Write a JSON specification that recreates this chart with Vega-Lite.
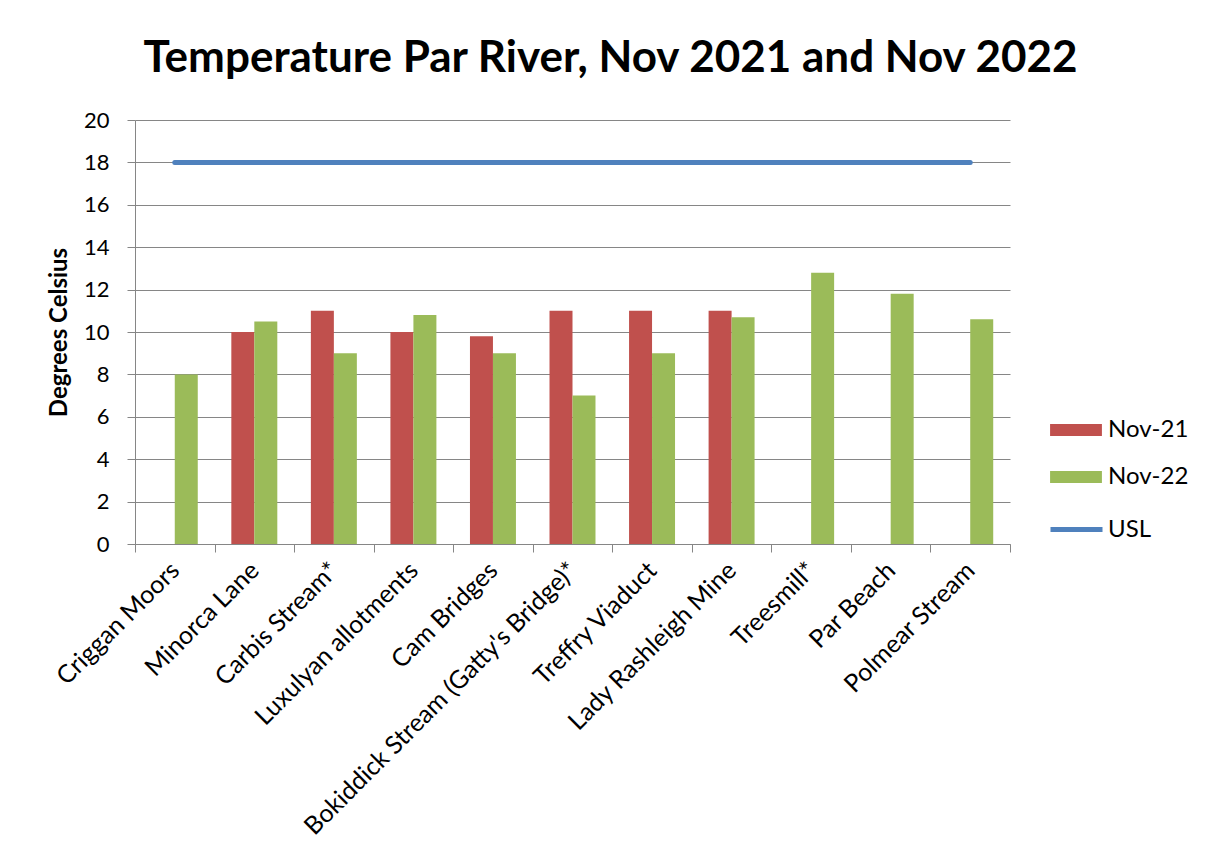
{
  "$schema": "https://vega.github.io/schema/vega-lite/v6.json",
  "autosize": {"type": "none"},
  "width": 875,
  "height": 424,
  "padding": {"left": 135, "top": 120, "right": 202, "bottom": 315},
  "background": "white",
  "title": {
    "text": "Temperature Par River, Nov 2021 and Nov 2022",
    "font": "Lato",
    "fontSize": 44,
    "fontWeight": "bold",
    "color": "black",
    "anchor": "middle",
    "frame": "group",
    "baseline": "alphabetic",
    "offset": 47,
    "dx": 38,
    "dy": 54
  },
  "datasets": {
    "temps": [
      {"site": "Criggan Moors", "series": "Nov-22", "value": 8},
      {"site": "Minorca Lane", "series": "Nov-21", "value": 10},
      {"site": "Minorca Lane", "series": "Nov-22", "value": 10.5},
      {"site": "Carbis Stream*", "series": "Nov-21", "value": 11},
      {"site": "Carbis Stream*", "series": "Nov-22", "value": 9},
      {"site": "Luxulyan allotments", "series": "Nov-21", "value": 10},
      {"site": "Luxulyan allotments", "series": "Nov-22", "value": 10.8},
      {"site": "Cam Bridges", "series": "Nov-21", "value": 9.8},
      {"site": "Cam Bridges", "series": "Nov-22", "value": 9},
      {"site": "Bokiddick Stream (Gatty's Bridge)*", "series": "Nov-21", "value": 11},
      {"site": "Bokiddick Stream (Gatty's Bridge)*", "series": "Nov-22", "value": 7},
      {"site": "Treffry Viaduct", "series": "Nov-21", "value": 11},
      {"site": "Treffry Viaduct", "series": "Nov-22", "value": 9},
      {"site": "Lady Rashleigh Mine", "series": "Nov-21", "value": 11},
      {"site": "Lady Rashleigh Mine", "series": "Nov-22", "value": 10.7},
      {"site": "Treesmill*", "series": "Nov-22", "value": 12.8},
      {"site": "Par Beach", "series": "Nov-22", "value": 11.8},
      {"site": "Polmear Stream", "series": "Nov-22", "value": 10.6}
    ],
    "usl": [
      {"site": "Criggan Moors", "series": "USL", "value": 18},
      {"site": "Minorca Lane", "series": "USL", "value": 18},
      {"site": "Carbis Stream*", "series": "USL", "value": 18},
      {"site": "Luxulyan allotments", "series": "USL", "value": 18},
      {"site": "Cam Bridges", "series": "USL", "value": 18},
      {"site": "Bokiddick Stream (Gatty's Bridge)*", "series": "USL", "value": 18},
      {"site": "Treffry Viaduct", "series": "USL", "value": 18},
      {"site": "Lady Rashleigh Mine", "series": "USL", "value": 18},
      {"site": "Treesmill*", "series": "USL", "value": 18},
      {"site": "Par Beach", "series": "USL", "value": 18},
      {"site": "Polmear Stream", "series": "USL", "value": 18}
    ]
  },
  "encoding": {
    "x": {
      "field": "site",
      "type": "nominal",
      "sort": null,
      "scale": {
        "domain": ["Criggan Moors", "Minorca Lane", "Carbis Stream*", "Luxulyan allotments", "Cam Bridges", "Bokiddick Stream (Gatty's Bridge)*", "Treffry Viaduct", "Lady Rashleigh Mine", "Treesmill*", "Par Beach", "Polmear Stream"],
        "paddingInner": 0,
        "paddingOuter": 0
      },
      "axis": {
        "title": null,
        "labelAngle": -45,
        "labelAlign": "right",
        "labelBaseline": "middle",
        "labelPadding": 14,
        "labelFont": "Lato",
        "labelFontSize": 25,
        "labelColor": "black",
        "labelLimit": 0,
        "tickBand": "extent",
        "tickSize": 8,
        "tickColor": "#868686",
        "domainColor": "#868686",
        "grid": false
      }
    },
    "y": {
      "field": "value",
      "type": "quantitative",
      "scale": {"domain": [0, 20], "nice": false},
      "axis": {
        "title": "Degrees Celsius",
        "titleFont": "Lato",
        "titleFontSize": 24,
        "titleFontWeight": "bold",
        "titleColor": "black",
        "titlePadding": 12,
        "values": [0, 2, 4, 6, 8, 10, 12, 14, 16, 18, 20],
        "labelFont": "Lato",
        "labelFontSize": 22,
        "labelColor": "black",
        "labelPadding": 18,
        "tickSize": 8,
        "tickColor": "#868686",
        "domainColor": "#868686",
        "grid": true,
        "gridColor": "#868686",
        "gridWidth": 1
      }
    }
  },
  "layer": [
    {
      "data": {"name": "temps"},
      "mark": {"type": "bar"},
      "encoding": {
        "xOffset": {
          "field": "series",
          "type": "nominal",
          "scale": {"domain": ["Nov-21", "Nov-22"], "paddingInner": 0, "paddingOuter": 0.73}
        },
        "fill": {
          "field": "series",
          "type": "nominal",
          "scale": {"domain": ["Nov-21", "Nov-22"], "range": ["#C0504D", "#9BBB59"]},
          "legend": {
            "title": null,
            "orient": "none",
            "legendX": 917,
            "legendY": 286,
            "symbolType": "M-1.08,-0.25H1.08V0.25H-1.08Z",
            "symbolSize": 2304,
            "symbolStrokeWidth": 0,
            "symbolOpacity": 1,
            "rowPadding": 11,
            "labelOffset": 8,
            "labelFont": "Lato",
            "labelFontSize": 24,
            "labelColor": "black"
          }
        }
      }
    },
    {
      "data": {"name": "usl"},
      "mark": {"type": "line", "strokeWidth": 5, "strokeCap": "round"},
      "encoding": {
        "stroke": {
          "field": "series",
          "type": "nominal",
          "scale": {"domain": ["USL"], "range": ["#4F81BD"]},
          "legend": {
            "title": null,
            "orient": "none",
            "legendX": 913,
            "legendY": 381,
            "symbolType": "stroke",
            "symbolSize": 2704,
            "symbolStrokeWidth": 5,
            "labelOffset": 3,
            "labelFont": "Lato",
            "labelFontSize": 24,
            "labelColor": "black"
          }
        }
      }
    }
  ],
  "config": {
    "view": {"stroke": null}
  }
}
